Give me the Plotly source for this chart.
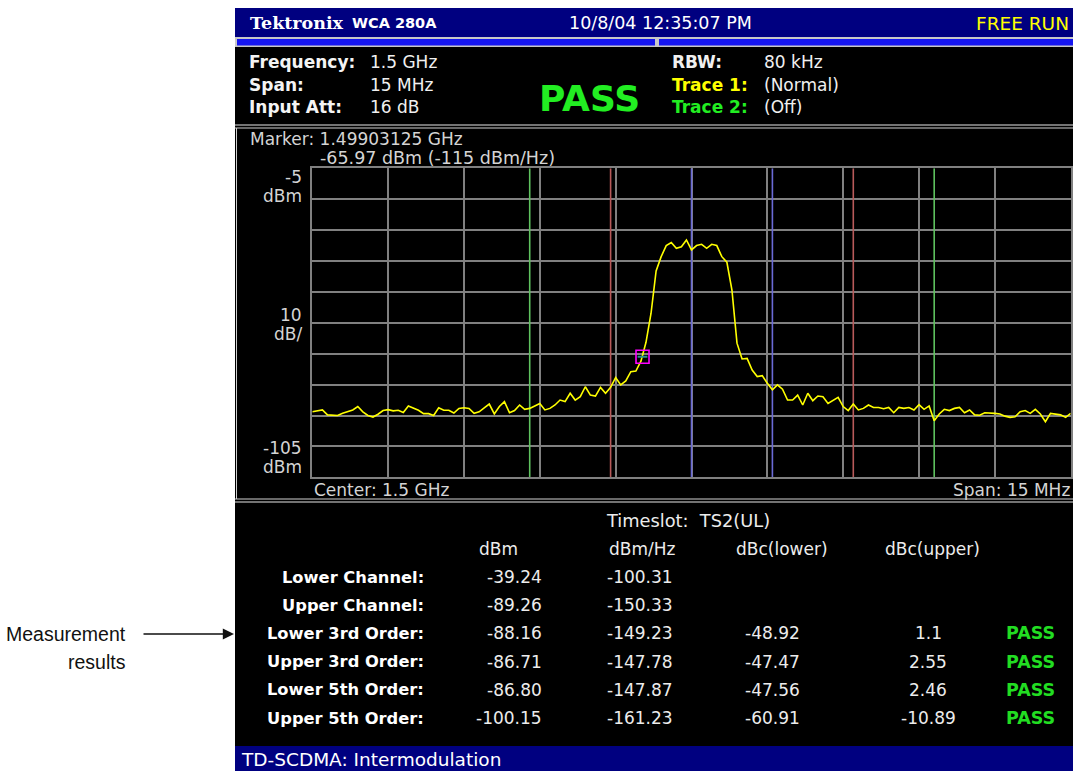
import plotly.graph_objects as go

W, H = 1073, 771

# ---------------- data ----------------
START_MHZ = 1492.5      # left edge of sweep (center 1.5 GHz, span 15 MHz)
STOP_MHZ = 1507.5
STEP_MHZ = 0.1
trace_dbm = [
    -83.8, -83.5, -83.2, -84.8, -85.0, -85.0, -84.3, -83.8, -83.2, -82.1,
    -83.8, -85.0, -85.5, -84.6, -83.4, -83.1, -83.5, -83.3, -84.0, -81.9,
    -82.5, -83.3, -84.4, -84.4, -85.0, -82.5, -83.3, -83.3, -84.2, -82.7,
    -82.5, -82.7, -84.3, -83.8, -82.5, -81.3, -84.5, -82.1, -80.5, -84.1,
    -83.4, -81.6, -83.0, -82.7, -81.9, -81.1, -83.2, -82.7, -81.6, -80.0,
    -80.5, -77.8, -80.0, -78.9, -75.7, -78.4, -78.7, -75.9, -77.8, -75.9,
    -72.7, -75.1, -73.8, -70.8, -70.6, -67.4, -61.3, -51.9, -38.2, -33.6,
    -30.0, -29.0, -30.9, -30.4, -28.2, -31.4, -30.0, -29.6, -30.9, -29.6,
    -30.0, -33.6, -35.4, -44.4, -61.6, -66.7, -66.5, -70.3, -72.4, -72.1,
    -74.6, -76.7, -75.1, -76.5, -80.0, -80.0, -78.4, -81.6, -77.8, -80.2,
    -78.7, -78.9, -81.1, -80.2, -79.1, -82.1, -83.4, -81.3, -83.2, -82.7,
    -81.6, -82.4, -82.4, -82.8, -82.4, -84.1, -82.4, -82.7, -82.4, -83.2,
    -81.5, -83.0, -81.9, -86.7, -84.5, -83.0, -83.4, -82.7, -82.4, -84.1,
    -83.2, -84.8, -84.9, -84.1, -84.1, -84.3, -84.5, -85.2, -85.6, -85.4,
    -83.8, -83.4, -84.3, -83.0, -84.5, -87.0, -84.3, -84.5, -84.8, -85.6,
    -84.3,
]
Y_TOP, Y_BOTTOM = -5, -105

marker_freq = 1499.03125
marker_dbm = -65.97

channel_freqs = [1500.0, 1501.6]        # blue
third_order_freqs = [1498.4, 1503.2]    # red
fifth_order_freqs = [1496.8, 1504.8]    # green

row_labels = ["Lower Channel:", "Upper Channel:", "Lower 3rd Order:",
              "Upper 3rd Order:", "Lower 5th Order:", "Upper 5th Order:"]
col_dbm = ["-39.24", "-89.26", "-88.16", "-86.71", "-86.80", "-100.15"]
col_dbm_hz = ["-100.31", "-150.33", "-149.23", "-147.78", "-147.87", "-161.23"]
col_dbc_lower = ["", "", "-48.92", "-47.47", "-47.56", "-60.91"]
col_dbc_upper = ["", "", "1.1", "2.55", "2.46", "-10.89"]
col_status = ["", "", "PASS", "PASS", "PASS", "PASS"]
col_headers = ["dBm", "dBm/Hz", "dBc(lower)", "dBc(upper)"]

info_left = [("Frequency:", "1.5 GHz"), ("Span:", "15 MHz"), ("Input Att:", "16 dB")]
info_right = [("RBW:", "80 kHz", "#f0f0f0"), ("Trace 1:", "(Normal)", "#ffff00"),
              ("Trace 2:", "(Off)", "#22ee22")]

# ---------------- helpers ----------------
def px(x):
    return x / W

def py(y):
    return 1 - y / H

FONT = "DejaVu Sans, Verdana, sans-serif"
shapes = []
annotations = []

def rect(x0, y0, x1, y1, fill, line=None, lw=0, layer="below"):
    shapes.append(dict(type="rect", xref="paper", yref="paper",
                       x0=px(x0), x1=px(x1), y0=py(y1), y1=py(y0),
                       fillcolor=fill, layer=layer,
                       line=dict(color=line or fill, width=lw)))

def hline(x0, x1, y, color, lw=1, layer="below"):
    shapes.append(dict(type="line", xref="paper", yref="paper",
                       x0=px(x0), x1=px(x1), y0=py(y), y1=py(y),
                       layer=layer, line=dict(color=color, width=lw)))

def vline(x, y0, y1, color, lw=1, layer="below"):
    shapes.append(dict(type="line", xref="paper", yref="paper",
                       x0=px(x), x1=px(x), y0=py(y0), y1=py(y1),
                       layer=layer, line=dict(color=color, width=lw)))

def text(x, y, s, size=17, color="#f0f0f0", anchor="left", family=FONT, bold=False):
    if bold:
        s = "<b>" + s + "</b>"
    annotations.append(dict(xref="paper", yref="paper", x=px(x), y=py(y),
                            text=s, showarrow=False, xanchor=anchor, yanchor="middle",
                            font=dict(family=family, size=size, color=color)))

# ---------------- screen background ----------------
rect(235, 8, 1073, 771, "#000000")
rect(235, 8, 1073, 37, "#000080")           # header bar
rect(235, 37, 1073, 47, "#c8c8c8")          # progress bar frame
rect(237, 39, 655, 45.5, "#1515f0")
rect(659, 39, 1073, 45.5, "#1515f0")
hline(235, 1073, 125, "#9a9a9a", 1.5)
hline(235, 1073, 128, "#d0d0d0", 1)
vline(236.5, 128, 499, "#d0d0d0", 1)
hline(235, 1073, 499, "#d0d0d0", 1)
hline(235, 1073, 502, "#9a9a9a", 1.5)
rect(235, 746, 1073, 771, "#000080")        # bottom status bar

# header texts
text(248, 23, "Tektronix", 17.5, "#ffffff", family="DejaVu Serif, serif", bold=True)
text(350, 23, "WCA 280A", 14.5, "#ffffff", bold=True)
text(660, 23, "10/8/04 12:35:07 PM", 17.5, "#ffffff", anchor="center")
text(1071, 23, "FREE RUN", 18.5, "#ffff00", anchor="right")

# info block
for k, (lab, val) in enumerate(info_left):
    yy = 62 + k * 22.5
    text(247, yy, lab, 17, "#f4f4f4", bold=True)
    text(368, yy, val, 17, "#f0f0f0")
for k, (lab, val, col) in enumerate(info_right):
    yy = 62 + k * 22.5
    text(670, yy, lab, 17, col, bold=True)
    text(762, yy, val, 17, "#f0f0f0")
text(589, 99, "PASS", 36, "#22ee22", anchor="center", bold=True)

# plot panel texts
PCOL = "#d4d4d4"
text(248, 139, "Marker: 1.49903125 GHz", 17, PCOL)
text(318, 158, "-65.97 dBm (-115 dBm/Hz)", 17.5, PCOL)
text(304, 177, "-5", 17, PCOL, anchor="right")
text(304, 196, "dBm", 17, PCOL, anchor="right")
text(304, 315, "10", 17, PCOL, anchor="right")
text(304, 334, "dB/", 17, PCOL, anchor="right")
text(304, 448, "-105", 17, PCOL, anchor="right")
text(304, 467, "dBm", 17, PCOL, anchor="right")
text(312, 490, "Center: 1.5 GHz", 17, PCOL)
text(1072, 490, "Span: 15 MHz", 17, PCOL, anchor="right")

# table
TCOL = "#ececec"
text(688, 520, "Timeslot:  TS2(UL)", 17.8, TCOL, anchor="center")
header_x = [498, 642, 782, 932]
for hx, h in zip(header_x, col_headers):
    text(hx, 549, h, 17, TCOL, anchor="center")
for r, lab in enumerate(row_labels):
    yy = 577 + r * 28.2
    text(426, yy, lab, 16.3, "#ffffff", anchor="right", bold=True)
    text(544, yy, col_dbm[r], 17, TCOL, anchor="right")
    text(675, yy, col_dbm_hz[r], 17, TCOL, anchor="right")
    if col_dbc_lower[r]:
        text(802, yy, col_dbc_lower[r], 17, TCOL, anchor="right")
    if col_dbc_upper[r]:
        text(928, yy, col_dbc_upper[r], 17, TCOL, anchor="center")
    if col_status[r]:
        text(1057, yy, col_status[r], 17.5, "#22dd22", anchor="right", bold=True)

text(239, 759, "TD-SCDMA: Intermodulation", 18.5, "#ffffff")

# left callout
CALL_FONT = "Liberation Sans Narrow, Arial Narrow, Liberation Sans, Arial, sans-serif"
text(128, 634, "Measurement", 19.5, "#111111", anchor="right", family=CALL_FONT)
text(128, 662, "results", 19.5, "#111111", anchor="right", family=CALL_FONT)
annotations.append(dict(xref="paper", yref="paper", x=px(234), y=py(634),
                        ax=142 - 234, ay=0, text="", showarrow=True,
                        arrowhead=2, arrowsize=1.4, arrowwidth=1.6,
                        arrowcolor="#111111"))

# ---------------- analyzer plot ----------------
fig = go.Figure()

# measurement-band marker lines (drawn as traces so they sit above the grid)
for freqs, col in ((fifth_order_freqs, "#5fc25f"), (third_order_freqs, "#b85a5a"),
                   (channel_freqs, "#6a6ad6")):
    xs, ys = [], []
    for f in freqs:
        xs += [f, f, None]
        ys += [Y_BOTTOM, Y_TOP, None]
    fig.add_trace(go.Scatter(x=xs, y=ys, mode="lines", line=dict(color=col, width=1.6),
                             hoverinfo="skip", showlegend=False, cliponaxis=True))

fig.add_trace(go.Scatter(y=trace_dbm, x0=START_MHZ, dx=STEP_MHZ, mode="lines",
                         line=dict(color="#ffff00", width=1.6), hoverinfo="skip",
                         showlegend=False))
fig.add_trace(go.Scatter(x=[marker_freq], y=[marker_dbm], mode="markers",
                         marker=dict(symbol="square-open", size=13, color="#ff00ff",
                                     line=dict(color="#ff00ff", width=1.6)),
                         hoverinfo="skip", showlegend=False))
fig.add_trace(go.Scatter(x=[marker_freq], y=[marker_dbm], mode="markers",
                         marker=dict(symbol="line-ew", size=7, color="#2a9090",
                                     line=dict(color="#2a9090", width=2)),
                         hoverinfo="skip", showlegend=False))

x_dom = [px(312.3), px(1070.7)]
y_dom = [py(477.3), py(168.3)]
GRID = "#808080"
fig.update_layout(
    width=W, height=H,
    margin=dict(l=0, r=0, t=0, b=0),
    paper_bgcolor="#ffffff",
    plot_bgcolor="#000000",
    shapes=shapes,
    annotations=annotations,
    xaxis=dict(domain=x_dom, range=[START_MHZ, STOP_MHZ], tick0=START_MHZ, dtick=1.5,
               showgrid=True, gridcolor=GRID, gridwidth=1.5, zeroline=False,
               showticklabels=False, ticks="", showline=True, mirror=True,
               linecolor=GRID, linewidth=1.5, fixedrange=True),
    yaxis=dict(domain=y_dom, range=[Y_BOTTOM, Y_TOP], tick0=Y_BOTTOM, dtick=10,
               showgrid=True, gridcolor=GRID, gridwidth=1.5, zeroline=False,
               showticklabels=False, ticks="", showline=True, mirror=True,
               linecolor=GRID, linewidth=1.5, fixedrange=True),
)

# remove the page's default 8px body margin so the figure fills the window exactly
fig.write_html("out.html",
               config={"displayModeBar": False},
               post_script="document.body.style.margin='0px';"
                           "document.body.style.overflow='hidden';")
